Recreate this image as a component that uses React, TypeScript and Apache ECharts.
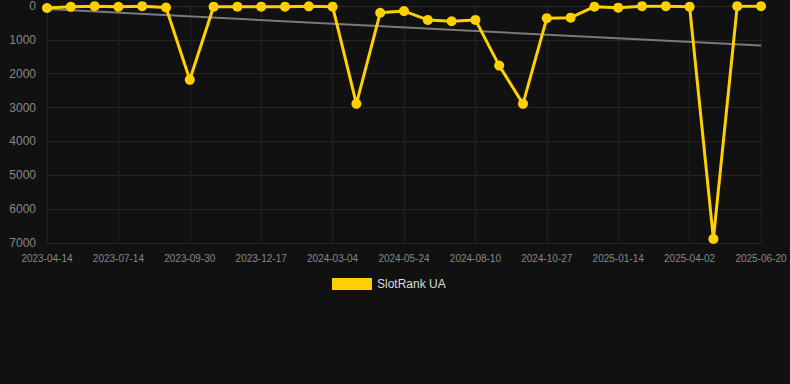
import React, { useEffect, useRef } from "react";
import * as echarts from "echarts";

const categories = [
  "2023-04-14", "2023-05-14", "2023-06-13",
  "2023-07-14", "2023-08-09", "2023-09-04",
  "2023-09-30", "2023-10-26", "2023-11-21",
  "2023-12-17", "2024-01-12", "2024-02-07",
  "2024-03-04", "2024-03-31", "2024-04-27",
  "2024-05-24", "2024-06-19", "2024-07-15",
  "2024-08-10", "2024-09-05", "2024-10-01",
  "2024-10-27", "2024-11-22", "2024-12-19",
  "2025-01-14", "2025-02-09", "2025-03-07",
  "2025-04-02", "2025-04-28", "2025-05-24",
  "2025-06-20",
];

const rankValues = [
  60, 25, 5, 25, 5, 45,
  2180, 20, 20, 20, 20, 10,
  20, 2890, 200, 150, 410, 450,
  410, 1760, 2890, 360, 345, 20,
  50, 5, 5, 20, 6880, 5, 5,
];

const trendStart = 90;
const trendEnd = 1170;

const yTicks = { min: 0, max: 7000, interval: 1000 };

export default function App() {
  const ref = useRef<HTMLDivElement>(null);
  useEffect(() => {
    document.body.style.margin = "0";
    document.body.style.background = "#111111";
    const chart = echarts.init(ref.current!, null, { renderer: "svg" });
    const trendData = categories.map((_, i) =>
      i === 0 ? trendStart : i === categories.length - 1 ? trendEnd : null
    );
    chart.setOption({
      animation: false,
      backgroundColor: "#111111",
      grid: { left: 47, right: 29, top: 6, bottom: 141, containLabel: false },
      legend: {
        top: 273,
        left: 327,
        data: [{ name: "SlotRank UA", icon: "rect" }],
        itemWidth: 40,
        itemHeight: 12,
        textStyle: { color: "#dddddd", fontSize: 12, fontFamily: "Liberation Sans, Arial, sans-serif" },
      },
      xAxis: {
        type: "category",
        data: categories,
        boundaryGap: false,
        axisLine: { show: true, lineStyle: { color: "#2a2a2a" } },
        axisTick: { show: true, interval: 2, length: 5, lineStyle: { color: "#2a2a2a" } },
        axisLabel: {
          interval: 2,
          color: "#888888",
          fontSize: 10,
          margin: 10,
          fontFamily: "Liberation Sans, Arial, sans-serif",
        },
        splitLine: { show: true, interval: 2, lineStyle: { color: "#222222", width: 1 } },
      },
      yAxis: {
        type: "value",
        inverse: true,
        min: yTicks.min,
        max: yTicks.max,
        interval: yTicks.interval,
        axisLine: { show: false },
        axisTick: { show: false },
        axisLabel: {
          color: "#888888",
          fontSize: 12,
          margin: 11,
          formatter: (v: number) => String(v),
          fontFamily: "Liberation Sans, Arial, sans-serif",
        },
        splitLine: { show: true, lineStyle: { color: "#242424", width: 1 } },
      },
      series: [
        {
          name: "Trend",
          type: "line",
          data: trendData,
          connectNulls: true,
          symbol: "none",
          lineStyle: { color: "#7a7a7a", width: 2 },
          z: 1,
          silent: true,
        },
        {
          name: "SlotRank UA",
          type: "line",
          data: rankValues,
          symbol: "circle",
          symbolSize: 10,
          itemStyle: { color: "#FFD000" },
          lineStyle: { color: "#FFD000", width: 3 },
          z: 2,
        },
      ],
    });
    return () => chart.dispose();
  }, []);
  return <div ref={ref} style={{ width: 790, height: 384 }} />;
}
